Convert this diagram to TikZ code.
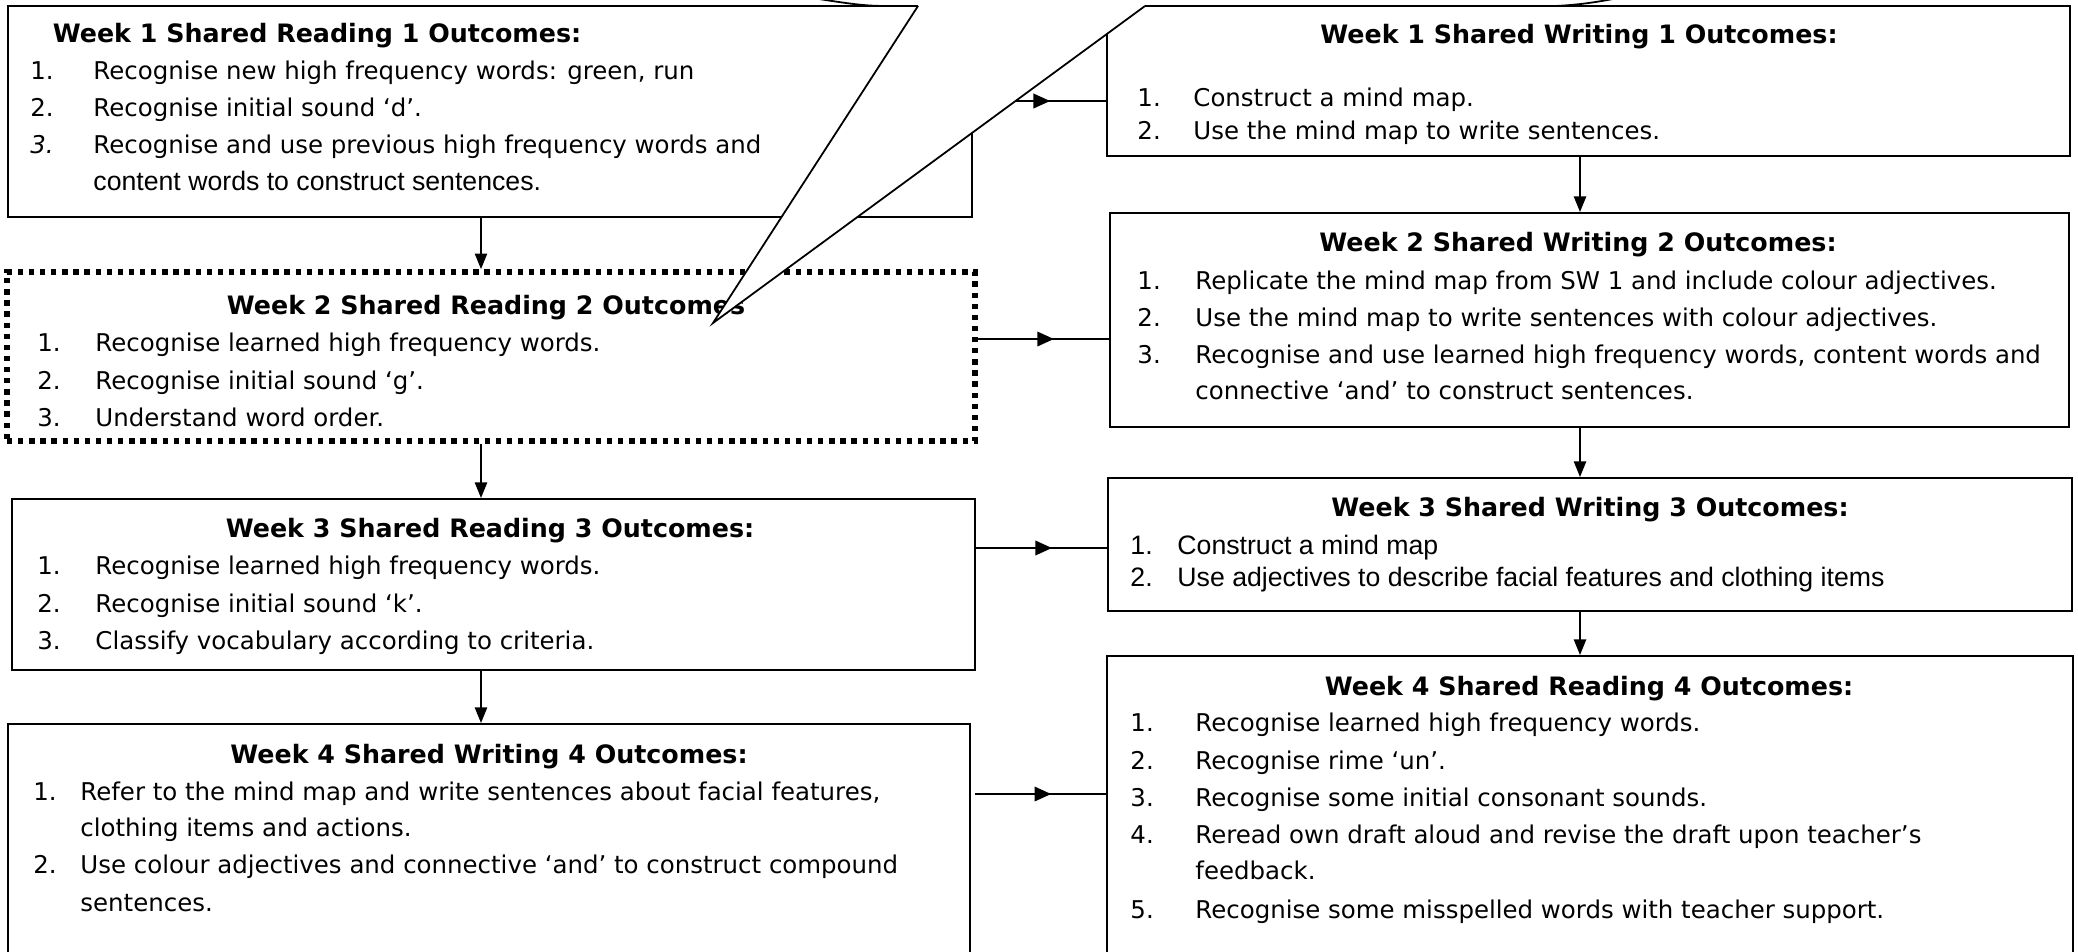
\documentclass[tikz,border=0pt]{standalone}
\usepackage{fontspec}
\setmainfont{DejaVu Sans}
\newfontfamily\arialf{Liberation Sans}
\usetikzlibrary{arrows.meta,decorations.markings,fit}
\begin{document}
\begin{tikzpicture}[x=0.45pt,y=-0.45pt,
  txt/.style={anchor=mid west, inner sep=0, font=\fontsize{11}{13}\selectfont},
  atxt/.style={anchor=mid west, inner sep=0, font=\fontsize{12}{14}\selectfont\arialf},
  ttl/.style={anchor=mid, inner sep=0, font=\fontsize{11.4}{13}\selectfont\bfseries},
  box/.style={draw, line width=0.9pt, fill=white, inner sep=0},
  dotbox/.style={draw, line width=2.6pt, dash pattern=on 2.4pt off 2.6pt, fill=white, inner sep=0},
  varrow/.style={line width=0.8pt, -{Triangle[length=7pt,width=5.5pt]}},
  harrow/.style={line width=1pt, postaction={decorate},
    decoration={markings, mark=at position 0.58 with {\arrow{Triangle[length=7.5pt,width=6.5pt]}}}},
  thin/.style={line width=0.8pt}
]
\useasboundingbox (0,0) rectangle (2078,951);
\clip (0,0) rectangle (2078,951);
\fill[white] (0,0) rectangle (2078,951);

% box corners
\coordinate (sr1a) at (8,6);    \coordinate (sr1b) at (972,217);
\coordinate (sw1a) at (1107,6); \coordinate (sw1b) at (2070,156);
\coordinate (sr2a) at (7,272);  \coordinate (sr2b) at (975,441);
\coordinate (sw2a) at (1110,213); \coordinate (sw2b) at (2069,427);
\coordinate (sr3a) at (12,499); \coordinate (sr3b) at (975,670);
\coordinate (sw3a) at (1108,478); \coordinate (sw3b) at (2072,611);
\coordinate (sw4a) at (8,724);  \coordinate (sw4b) at (970,990);
\coordinate (sr4a) at (1107,656); \coordinate (sr4b) at (2073,990);

\node[box, fit=(sr1a)(sr1b)] (sr1) {};
\node[box, fit=(sw1a)(sw1b)] (sw1) {};
\node[dotbox, fit=(sr2a)(sr2b)] (sr2) {};
\node[box, fit=(sw2a)(sw2b)] (sw2) {};
\node[box, fit=(sr3a)(sr3b)] (sr3) {};
\node[box, fit=(sw3a)(sw3b)] (sw3) {};
\node[box, fit=(sw4a)(sw4b)] (sw4) {};
\node[box, fit=(sr4a)(sr4b)] (sr4) {};

% ---- texts: Week 1 Shared Reading 1
\node[ttl] (sr1t) at (317,36) {Week 1 Shared Reading 1 Outcomes:};
\node[txt] (sr1n1) at (30,73) {1.};
\node[txt] (sr1i1) at (93,73) {Recognise new high frequency words: green, run};
\node[txt] (sr1n2) at (30,110) {2.};
\node[txt] (sr1i2) at (93,110) {Recognise initial sound ‘d’.};
\node[txt] (sr1n3) at (30,147) {\itshape 3.};
\node[txt] (sr1i3) at (93,147) {Recognise and use previous high frequency words and};
\node[atxt] (sr1i3b) at (93,184) {content words to construct sentences.};

% ---- Week 1 Shared Writing 1
\node[ttl] (sw1t) at (1579,37) {Week 1 Shared Writing 1 Outcomes:};
\node[txt] (sw1n1) at (1137,100) {1.};
\node[txt] (sw1i1) at (1193,100) {Construct a mind map.};
\node[txt] (sw1n2) at (1137,133) {2.};
\node[txt] (sw1i2) at (1193,133) {Use the mind map to write sentences.};

% ---- Week 2 Shared Reading 2
\node[ttl] (sr2t) at (486,308) {Week 2 Shared Reading 2 Outcomes};
\node[txt] (sr2n1) at (37,345) {1.};
\node[txt] (sr2i1) at (95,345) {Recognise learned high frequency words.};
\node[txt] (sr2n2) at (37,383) {2.};
\node[txt] (sr2i2) at (95,383) {Recognise initial sound ‘g’.};
\node[txt] (sr2n3) at (37,420) {3.};
\node[txt] (sr2i3) at (95,420) {Understand word order.};

% ---- Week 2 Shared Writing 2
\node[ttl] (sw2t) at (1578,245) {Week 2 Shared Writing 2 Outcomes:};
\node[txt] (sw2n1) at (1137,283) {1.};
\node[txt] (sw2i1) at (1195,283) {Replicate the mind map from SW 1 and include colour adjectives.};
\node[txt] (sw2n2) at (1137,320) {2.};
\node[txt] (sw2i2) at (1195,320) {Use the mind map to write sentences with colour adjectives.};
\node[txt] (sw2n3) at (1137,357) {3.};
\node[txt] (sw2i3) at (1195,357) {Recognise and use learned high frequency words, content words and};
\node[txt] (sw2i3b) at (1195,393) {connective ‘and’ to construct sentences.};

% ---- Week 3 Shared Reading 3
\node[ttl] (sr3t) at (490,531) {Week 3 Shared Reading 3 Outcomes:};
\node[txt] (sr3n1) at (37,568) {1.};
\node[txt] (sr3i1) at (95,568) {Recognise learned high frequency words.};
\node[txt] (sr3n2) at (37,606) {2.};
\node[txt] (sr3i2) at (95,606) {Recognise initial sound ‘k’.};
\node[txt] (sr3n3) at (37,643) {3.};
\node[txt] (sr3i3) at (95,643) {Classify vocabulary according to criteria.};

% ---- Week 3 Shared Writing 3
\node[ttl] (sw3t) at (1590,510) {Week 3 Shared Writing 3 Outcomes:};
\node[atxt] (sw3n1) at (1130,548) {1.};
\node[atxt] (sw3i1) at (1177,548) {Construct a mind map};
\node[atxt] (sw3n2) at (1130,580) {2.};
\node[atxt] (sw3i2) at (1177,580) {Use adjectives to describe facial features and clothing items};

% ---- Week 4 Shared Writing 4
\node[ttl] (sw4t) at (489,757) {Week 4 Shared Writing 4 Outcomes:};
\node[txt] (sw4n1) at (33,794) {1.};
\node[txt] (sw4i1) at (80,794) {Refer to the mind map and write sentences about facial features,};
\node[txt] (sw4i1b) at (80,830) {clothing items and actions.};
\node[txt] (sw4n2) at (33,867) {2.};
\node[txt] (sw4i2) at (80,867) {Use colour adjectives and connective ‘and’ to construct compound};
\node[txt] (sw4i2b) at (80,905) {sentences.};

% ---- Week 4 Shared Reading 4
\node[ttl] (sr4t) at (1589,689) {Week 4 Shared Reading 4 Outcomes:};
\node[txt] (sr4n1) at (1130,725) {1.};
\node[txt] (sr4i1) at (1195,725) {Recognise learned high frequency words.};
\node[txt] (sr4n2) at (1130,763) {2.};
\node[txt] (sr4i2) at (1195,763) {Recognise rime ‘un’.};
\node[txt] (sr4n3) at (1130,800) {3.};
\node[txt] (sr4i3) at (1195,800) {Recognise some initial consonant sounds.};
\node[txt] (sr4n4) at (1130,837) {4.};
\node[txt] (sr4i4) at (1195,837) {Reread own draft aloud and revise the draft upon teacher’s};
\node[txt] (sr4i4b) at (1195,873) {feedback.};
\node[txt] (sr4n5) at (1130,912) {5.};
\node[txt] (sr4i5) at (1195,912) {Recognise some misspelled words with teacher support.};

% ---- connectors
\coordinate (colL) at (481,0);
\coordinate (colR) at (1580,0);
\coordinate (rowA) at (0,101);
\coordinate (rowB) at (0,339);
\coordinate (rowC) at (0,548);
\coordinate (rowD) at (0,794);

\draw[varrow] (sr1.south -| colL) -- (sr2.north -| colL);
\draw[varrow] (sr2.south -| colL) -- (sr3.north -| colL);
\draw[varrow] (sr3.south -| colL) -- (sw4.north -| colL);
\draw[varrow] (sw1.south -| colR) -- (sw2.north -| colR);
\draw[varrow] (sw2.south -| colR) -- (sw3.north -| colR);
\draw[varrow] (sw3.south -| colR) -- (sr4.north -| colR);

\draw[harrow] (sr1.east |- rowA) -- (sw1.west |- rowA);
\draw[harrow] (sr2.east |- rowB) -- (sw2.west |- rowB);
\draw[harrow] (sr3.east |- rowC) -- (sw3.west |- rowC);
\draw[harrow] ([xshift=2pt]sw4.east |- rowD) -- (sr4.west |- rowD);

% ---- callout pointers (drawn over the boxes)
\coordinate (tipP) at (713,323);
\coordinate (pA) at (918,6);
\coordinate (pB) at (1145,6);
\coordinate (pAu) at (918,-20);
\coordinate (pBu) at (1145,-20);
\fill[white] (pAu) -- (pA) -- (tipP) -- (pB) -- (pBu) -- cycle;
\draw[thin, line join=miter] (pA) -- (tipP) -- (pB);
\draw[thin] (sr1a) -- (pA);
\draw[thin] (pB) -- (sw1b |- pB);
\draw[thin] (812,-2) .. controls (840,2) and (860,6) .. (885,6);
\draw[thin] (1555,6) .. controls (1578,5) and (1598,2) .. (1618,-2);
\end{tikzpicture}
\end{document}
